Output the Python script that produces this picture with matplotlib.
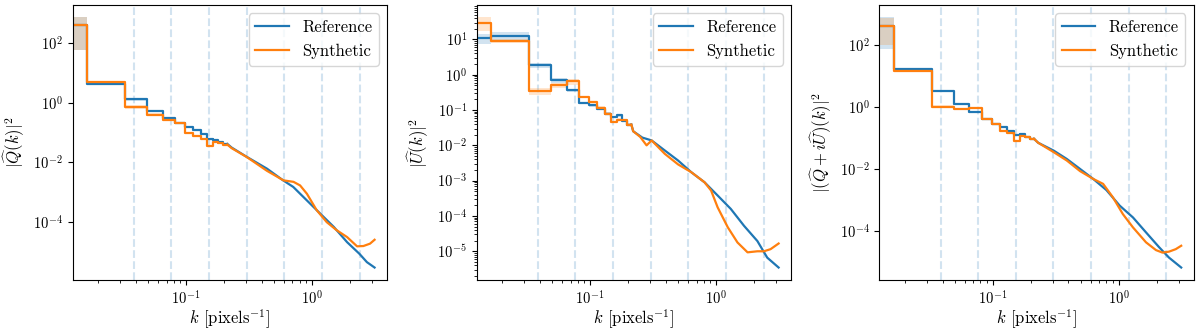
import numpy as np
import matplotlib
matplotlib.use("Agg")
import matplotlib.pyplot as plt
from matplotlib.ticker import NullLocator

plt.rcParams["mathtext.fontset"] = "cm"
plt.rcParams["font.family"] = "serif"
plt.rcParams["font.serif"] = ["cmr10", "DejaVu Serif"]
plt.rcParams["axes.formatter.use_mathtext"] = True

# bin edges of the low-k step part (first edge is clipped by xlim)
k_edges = [0.010, 0.0164, 0.0327, 0.0491, 0.0654, 0.0818, 0.0982, 0.1145,
           0.1309, 0.1472, 0.1636, 0.1800, 0.1963, 0.2127]

# dashed scale markers
k_scales = [0.0386, 0.0765, 0.152, 0.303, 0.603, 1.20, 2.39]

# ---- panel 1 : |Q(k)|^2  (log10 values)
q_ref_bins = [2.59, 0.64, 0.12, -0.28, -0.50, -0.69, -0.80, -0.90, -1.04, -1.22, -1.25, -1.32, -1.38]
q_syn_bins = [2.59, 0.70, -0.14, -0.40, -0.59, -0.69, -1.01, -1.12, -1.22, -1.46, -1.30, -1.34, -1.40]
q_ref_sd = [0.85, 0.08, 0.10, 0.06, 0.06, 0.06, 0.06, 0.06, 0.06, 0.06, 0.06, 0.06, 0.06]
q_syn_sd = [0.85, 0.10, 0.15, 0.10, 0.06, 0.06, 0.06, 0.06, 0.06, 0.06, 0.06, 0.06, 0.06]
q_ref_k = [0.23, 0.30, 0.44, 0.59, 0.71, 0.91, 1.20, 1.49, 1.90, 2.38, 2.73, 3.14]
q_ref_tail = [-1.50, -1.80, -2.21, -2.60, -2.82, -3.27, -3.77, -4.16, -4.67, -5.06, -5.34, -5.52]
q_syn_k = [0.23, 0.304, 0.439, 0.594, 0.714, 0.805, 0.912, 1.09, 1.31, 1.57, 1.90, 2.28, 2.56, 2.89, 3.14]
q_syn_tail = [-1.52, -1.82, -2.28, -2.60, -2.65, -2.77, -3.05, -3.60, -4.00, -4.27, -4.50, -4.81, -4.80, -4.72, -4.59]

# ---- panel 2 : |U(k)|^2
u_ref_bins = [1.045, 1.10, 0.27, -0.16, -0.44, -0.80, -0.87, -0.96, -1.10, -1.20, -1.15, -1.31, -1.41]
u_syn_bins = [1.47, 0.96, -0.46, -0.30, -0.19, -0.63, -0.77, -0.93, -1.10, -1.34, -1.27, -1.29, -1.41]
u_ref_sd = [0.32, 0.25, 0.15, 0.15, 0.12, 0.08, 0.08, 0.08, 0.08, 0.08, 0.08, 0.08, 0.08]
u_syn_sd = [0.42, 0.15, 0.25, 0.15, 0.20, 0.08, 0.08, 0.08, 0.08, 0.08, 0.08, 0.08, 0.08]
u_ref_k = [0.22, 0.26, 0.308, 0.392, 0.50, 0.636, 0.81, 1.03, 1.31, 1.67, 2.13, 2.55, 3.14]
u_ref_tail = [-1.60, -1.78, -1.86, -2.145, -2.43, -2.76, -3.045, -3.42, -3.80, -4.28, -4.71, -5.18, -5.46]
u_syn_k = [0.22, 0.25, 0.281, 0.308, 0.392, 0.50, 0.636, 0.81, 0.914, 1.03, 1.24, 1.48, 1.78, 2.13, 2.40, 2.71, 3.14]
u_syn_tail = [-1.60, -1.76, -2.0, -1.86, -2.24, -2.54, -2.76, -3.045, -3.28, -3.755, -4.32, -4.75, -5.03, -5.0, -5.0, -4.94, -4.78]

# ---- panel 3 : |(Q + iU)(k)|^2
p_ref_bins = [2.62, 1.23, 0.53, 0.10, -0.17, -0.38, -0.54, -0.63, -0.78, -0.90, -0.87, -0.97, -1.02]
p_syn_bins = [2.62, 1.15, 0.01, -0.06, -0.04, -0.38, -0.54, -0.76, -0.85, -1.10, -0.93, -0.97, -1.02]
p_ref_sd = [0.82, 0.06, 0.06, 0.06, 0.06, 0.06, 0.06, 0.06, 0.06, 0.06, 0.06, 0.06, 0.06]
p_syn_sd = [0.76, 0.06, 0.10, 0.06, 0.06, 0.06, 0.06, 0.06, 0.06, 0.06, 0.06, 0.06, 0.06]
p_ref_k = [0.23, 0.305, 0.388, 0.494, 0.628, 0.80, 1.02, 1.30, 1.65, 2.10, 2.51, 3.14]
p_ref_tail = [-1.15, -1.40, -1.67, -1.99, -2.31, -2.67, -3.17, -3.55, -4.03, -4.51, -4.84, -5.16]
p_syn_k = [0.23, 0.305, 0.388, 0.494, 0.628, 0.753, 0.90, 1.08, 1.30, 1.65, 1.98, 2.23, 2.51, 2.84, 3.14]
p_syn_tail = [-1.15, -1.45, -1.72, -2.06, -2.31, -2.47, -2.90, -3.44, -3.87, -4.35, -4.60, -4.68, -4.65, -4.57, -4.46]

# tick values
x_major = [0.1, 1.0]
y_ticks_qp = [1e2, 1e0, 1e-2, 1e-4]
y_ticks_u = [1e1, 1e0, 1e-1, 1e-2, 1e-3, 1e-4, 1e-5]

panels = [
    (r"$|\widehat{Q}(k)|^2$", y_ticks_qp,
     [(q_ref_bins, q_ref_sd, q_ref_k, q_ref_tail), (q_syn_bins, q_syn_sd, q_syn_k, q_syn_tail)]),
    (r"$|\widehat{U}(k)|^2$", y_ticks_u,
     [(u_ref_bins, u_ref_sd, u_ref_k, u_ref_tail), (u_syn_bins, u_syn_sd, u_syn_k, u_syn_tail)]),
    (r"$|(\widehat{Q}+i\widehat{U})(k)|^2$", y_ticks_qp,
     [(p_ref_bins, p_ref_sd, p_ref_k, p_ref_tail), (p_syn_bins, p_syn_sd, p_syn_k, p_syn_tail)]),
]
labels = ["Reference", "Synthetic"]
colors = ["C0", "C1"]

fig = plt.figure(figsize=(12, 3.31), dpi=100)
lefts = [0.0606, 0.3973, 0.7328]

for left, (ylab, yticks, series) in zip(lefts, panels):
    ax = fig.add_axes([left, 0.154, 0.262, 0.831])
    for kv in k_scales:
        ax.axvline(kv, color="C0", alpha=0.2, ls="--", lw=1.5, zorder=0)
    for (bins, sd, kt, tail), lab, c in zip(series, labels, colors):
        mean = 10 ** np.array(bins)
        lo = mean * (1 - np.array(sd))
        hi = mean * (1 + np.array(sd))
        ax.fill_between(k_edges, np.append(lo, lo[-1]), np.append(hi, hi[-1]),
                        step="post", color=c, alpha=0.2, lw=0)
        ax.step(k_edges, np.append(mean, mean[-1]), where="post", color=c, lw=1.6, label=lab)
        ax.plot([k_edges[-1]] + kt, np.append(mean[-1], 10 ** np.array(tail)), color=c, lw=1.6)
    ax.set_xscale("log")
    ax.set_yscale("log")
    ax.set_xlim(0.0126, 3.95)
    ylim = ax.get_ylim()
    ax.set_xticks(x_major)
    ax.set_yticks(yticks)
    ax.set_ylim(ylim)
    if len(yticks) < 5:
        ax.yaxis.set_minor_locator(NullLocator())
    ax.tick_params(labelsize=10.5)
    ax.set_xlabel(r"$k$ [pixels$^{-1}$]", fontsize=12, labelpad=0)
    ax.set_ylabel(ylab, fontsize=12)
    ax.legend(loc="upper right", fontsize=12)

fig.savefig("out.png", dpi=100)
